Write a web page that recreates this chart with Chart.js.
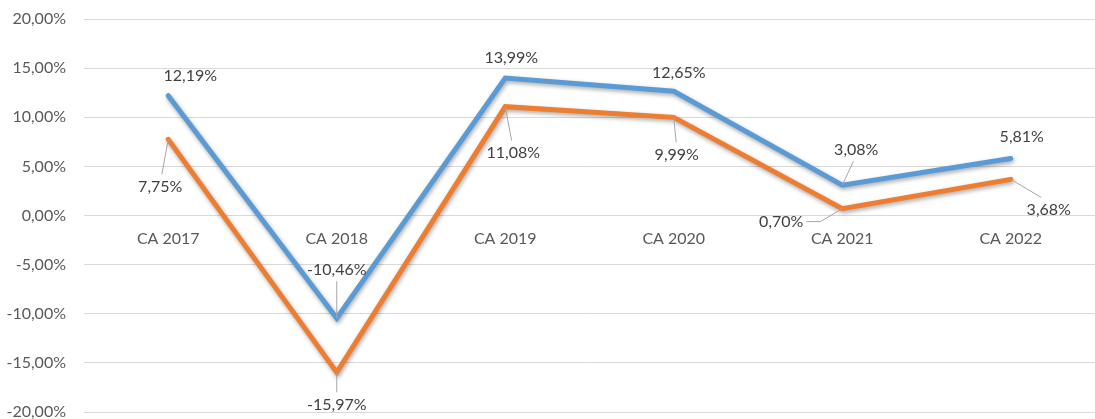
<!DOCTYPE html>
<html>
<head>
<meta charset="utf-8">
<script src="https://cdn.jsdelivr.net/npm/chart.js@4/dist/chart.umd.min.js"></script>
<style>
    html, body { margin: 0; padding: 0; background: #ffffff; }
    #wrap { width: 1095px; height: 419px; }
</style>
</head>
<body>
<div id="wrap"><canvas id="growthChart"></canvas></div>
<script>
/* ---------------- Data ---------------- */

const categories = ["CA 2017", "CA 2018", "CA 2019", "CA 2020", "CA 2021", "CA 2022"];

const blueValues = [12.19, -10.46, 13.99, 12.65, 3.08, 5.81];
const orangeValues = [7.75, -15.97, 11.08, 9.99, 0.70, 3.68];

const yTicks = [-20, -15, -10, -5, 0, 5, 10, 15, 20];

/* label offsets from their point: [dx, dy, leader] */
const blueLabelPos = [[22, -20, 0], [0, -48, 1], [6, -20, 0], [5, -18, 0], [14, -35, 1], [11, -22, 0]];
const orangeLabelPos = [[-8, 47, 1], [0, 32, 1], [8, 46, 1], [3, 37, 1], [-61, 13, 2], [38, 30, 1]];

const FONT = "Lato, 'Open Sans', sans-serif";

function pct(v) {
    return v.toFixed(2).replace(".", ",") + "%";
}

/* ---------------- Plugins ---------------- */

const shadowPlugin = {
    id: "lineShadow",
    beforeDatasetsDraw(chart) {
        const ctx = chart.ctx;
        ctx.save();
        ctx.shadowColor = "rgba(0,0,0,0.35)";
        ctx.shadowBlur = 4;
        ctx.shadowOffsetX = 1;
        ctx.shadowOffsetY = 2;
    },
    afterDatasetsDraw(chart) {
        chart.ctx.restore();
    }
};

const labelPlugin = {
    id: "valueLabels",
    afterDatasetsDraw(chart) {
        const ctx = chart.ctx;
        ctx.save();
        ctx.font = "16px " + FONT;
        ctx.textAlign = "center";
        ctx.textBaseline = "middle";

        chart.data.datasets.forEach((ds, di) => {
            const meta = chart.getDatasetMeta(di);
            meta.data.forEach((pt, i) => {
                const [dx, dy, leader] = ds.labelPos[i];
                const lx = pt.x + dx;
                const ly = pt.y + dy;
                const text = pct(ds.data[i]);
                const w = ctx.measureText(text).width;

                if (leader) {
                    ctx.strokeStyle = "#a6a6a6";
                    ctx.lineWidth = 1;
                    ctx.beginPath();
                    if (leader === 2) {
                        ctx.moveTo(lx + w / 2 + 3, ly);
                        ctx.lineTo(lx + w / 2 + 17, ly);
                    } else if (dy > 0) {
                        ctx.moveTo(lx + (pt.x - lx) * 0.2, ly - 12);
                    } else {
                        ctx.moveTo(lx + (pt.x - lx) * 0.2, ly + 11);
                    }
                    ctx.lineTo(pt.x, pt.y);
                    ctx.stroke();
                }

                ctx.fillStyle = "#404040";
                ctx.fillText(text, lx, ly);
            });
        });
        ctx.restore();
    }
};

/* ---------------- Chart ---------------- */

function createGrowthChart() {

    new Chart(
        document.getElementById("growthChart"),
        {
            type: "line",
            data: {
                labels: categories,
                datasets: [
                    {
                        label: "Série 1",
                        data: blueValues,
                        labelPos: blueLabelPos,
                        borderColor: "#5b9bd5",
                        borderWidth: 5,
                        borderCapStyle: "round",
                        borderJoinStyle: "miter",
                        pointRadius: 0,
                        tension: 0
                    },
                    {
                        label: "Série 2",
                        data: orangeValues,
                        labelPos: orangeLabelPos,
                        borderColor: "#ed7d31",
                        borderWidth: 5,
                        borderCapStyle: "round",
                        borderJoinStyle: "miter",
                        pointRadius: 0,
                        tension: 0
                    }
                ]
            },
            options: {
                responsive: true,
                maintainAspectRatio: false,
                animation: false,
                layout: { padding: { top: 19, right: 0, bottom: 7, left: 0 } },
                plugins: {
                    legend: { display: false },
                    tooltip: { enabled: false }
                },
                scales: {
                    x: {
                        position: { y: 0 },
                        offset: true,
                        afterFit(scale) {
                            scale.height = 0;
                            scale.paddingLeft = 0;
                            scale.paddingRight = 0;
                        },
                        grid: { display: false, offset: true },
                        border: { display: false },
                        ticks: {
                            color: "#595959",
                            font: { family: FONT, size: 16 },
                            padding: 6,
                            maxRotation: 0
                        }
                    },
                    y: {
                        min: -20,
                        max: 20,
                        afterBuildTicks(scale) {
                            scale.ticks = yTicks.map(v => ({ value: v }));
                        },
                        afterFit(scale) {
                            scale.width = 84;
                            scale.paddingTop = 0;
                            scale.paddingBottom = 0;
                        },
                        grid: { color: "#d9d9d9", lineWidth: 1, drawTicks: false },
                        border: { display: false },
                        ticks: {
                            color: "#595959",
                            font: { family: FONT, size: 16 },
                            padding: 18,
                            callback: v => pct(v)
                        }
                    }
                }
            },
            plugins: [shadowPlugin, labelPlugin]
        }
    );

}

/* ---------------- Start ---------------- */

createGrowthChart();
</script>
</body>
</html>
